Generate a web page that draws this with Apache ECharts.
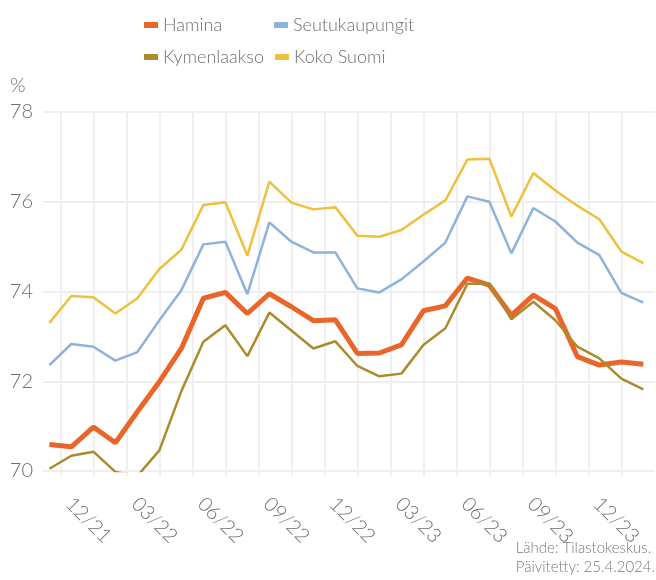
<!DOCTYPE html>
<html lang="fi">
<head>
    <meta charset="UTF-8">
    <title>Työllisyysaste</title>
    <script src="https://cdn.jsdelivr.net/npm/echarts@6/dist/echarts.min.js"></script>
    <style>
        html, body { margin: 0; padding: 0; background: #fff; }
    </style>
</head>
<body>
<div id="main" style="width: 656px;height:580px;"></div>
<script type="text/javascript">
    // kuukaudet 10/21 - 01/24
    var months = ['10/21', '11/21', '12/21', '01/22', '02/22', '03/22', '04/22', '05/22', '06/22', '07/22',
        '08/22', '09/22', '10/22', '11/22', '12/22', '01/23', '02/23', '03/23', '04/23', '05/23',
        '06/23', '07/23', '08/23', '09/23', '10/23', '11/23', '12/23', '01/24'];

    var hamina = [70.59, 70.54, 70.98, 70.63, 71.32, 71.99, 72.73, 73.85, 73.98, 73.51,
        73.95, 73.66, 73.35, 73.37, 72.62, 72.63, 72.81, 73.57, 73.68, 74.30,
        74.14, 73.47, 73.92, 73.62, 72.55, 72.36, 72.43, 72.38];
    var seutukaupungit = [72.36, 72.83, 72.77, 72.46, 72.65, 73.36, 74.03, 75.05, 75.11, 73.94,
        75.54, 75.11, 74.87, 74.87, 74.07, 73.98, 74.27, 74.67, 75.09, 76.12,
        76.00, 74.85, 75.86, 75.56, 75.09, 74.81, 73.97, 73.75];
    var kymenlaakso = [70.05, 70.34, 70.43, 69.98, 69.89, 70.46, 71.78, 72.88, 73.25, 72.56,
        73.53, 73.13, 72.73, 72.89, 72.34, 72.11, 72.17, 72.81, 73.18, 74.17,
        74.18, 73.38, 73.77, 73.36, 72.77, 72.51, 72.06, 71.82];
    var kokoSuomi = [73.30, 73.90, 73.87, 73.51, 73.85, 74.50, 74.93, 75.93, 75.99, 74.80,
        76.45, 75.98, 75.83, 75.88, 75.24, 75.22, 75.37, 75.71, 76.03, 76.94,
        76.96, 75.67, 76.64, 76.25, 75.91, 75.61, 74.89, 74.63];

    var font = 'Lato';
    var grey = '#6f6f6f';
    var gridColor = '#efefef';

    // nimetyt kuukaudet (03, 06, 09, 12) ja pystyviivat puolentoista kk:n välein
    var labelIdx = [];
    months.forEach(function (m, i) {
        if (['03', '06', '09', '12'].indexOf(m.slice(0, 2)) >= 0) labelIdx.push(i);
    });
    var gridIdx = [];
    for (var g = 0.5; g < months.length - 1; g += 1.5) gridIdx.push(g);

    function pts(arr) {
        return arr.map(function (v, i) { return [i, v]; });
    }

    var legendText = { fontFamily: font, fontWeight: 300, fontSize: 18, lineHeight: 24, color: grey, width: 100 };

    var myChart = echarts.init(document.getElementById('main'));

    myChart.setOption({
        animation: false,
        textStyle: { fontFamily: font },
        title: {
            text: '%',
            left: 5, top: 71,
            textStyle: { fontFamily: font, fontWeight: 300, fontSize: 20, color: grey }
        },
        graphic: [{
            type: 'text',
            right: 1, bottom: 3,
            style: {
                text: 'Lähde: Tilastokeskus.\nPäivitetty: 25.4.2024.',
                align: 'right',
                font: '300 15px Lato',
                lineHeight: 19,
                fill: '#7a7a7a'
            }
        }],
        legend: [
            {
                data: ['Hamina', 'Seutukaupungit'],
                left: 139, top: 8,
                itemWidth: 14, itemHeight: 6, itemGap: 11,
                icon: 'rect',
                textStyle: legendText
            },
            {
                data: ['Kymenlaakso', 'Koko Suomi'],
                left: 139, top: 40,
                itemWidth: 14, itemHeight: 6, itemGap: 11,
                icon: 'rect',
                textStyle: legendText
            }
        ],
        grid: { left: 43, right: 1, top: 112, bottom: 109, containLabel: false },
        xAxis: {
            type: 'value',
            min: -0.29,
            max: 27.53,
            axisLine: { show: false },
            axisTick: { show: true, customValues: gridIdx, length: 5, lineStyle: { color: gridColor, width: 2 } },
            splitLine: { show: true, lineStyle: { color: gridColor, width: 2 } },
            axisLabel: {
                customValues: labelIdx,
                formatter: function (v) { return months[Math.round(v)]; },
                rotate: -45,
                align: 'center',
                verticalAlign: 'middle',
                margin: 54,
                padding: [0, 14, 0, 0],
                fontFamily: font, fontWeight: 300, fontSize: 20, color: grey
            }
        },
        yAxis: {
            type: 'value',
            min: 70, max: 78, interval: 2,
            axisLine: { show: false },
            axisTick: { show: false },
            splitLine: { lineStyle: { color: gridColor, width: 2 } },
            axisLabel: { margin: 10, fontFamily: font, fontWeight: 300, fontSize: 20, color: grey }
        },
        series: [
            {
                name: 'Koko Suomi', type: 'line', data: pts(kokoSuomi),
                showSymbol: false, color: '#edc13d',
                lineStyle: { width: 2.5, color: '#edc13d' }
            },
            {
                name: 'Seutukaupungit', type: 'line', data: pts(seutukaupungit),
                showSymbol: false, color: '#8db3dc',
                lineStyle: { width: 2.5, color: '#8db3dc' }
            },
            {
                name: 'Hamina', type: 'line', data: pts(hamina),
                showSymbol: false, color: '#e9652a',
                lineStyle: { width: 5, color: '#e9652a' }
            },
            {
                name: 'Kymenlaakso', type: 'line', data: pts(kymenlaakso),
                showSymbol: false, color: '#aa8c2e',
                lineStyle: { width: 2.5, color: '#aa8c2e' }
            }
        ]
    });
</script>
</body>
</html>
